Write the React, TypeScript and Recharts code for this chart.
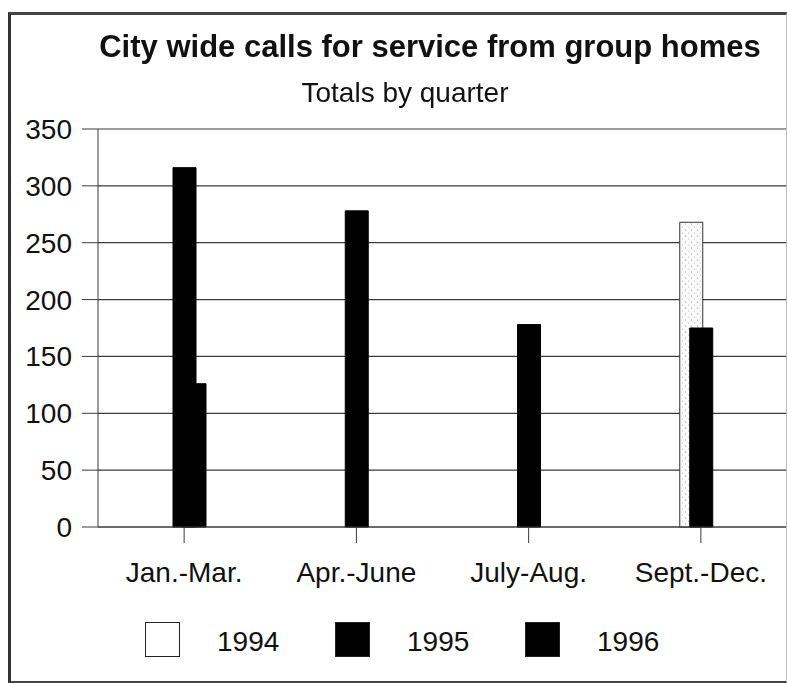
import React from 'react';
import { BarChart, Bar, XAxis, YAxis, CartesianGrid } from 'recharts';

const quarters = ['Jan.-Mar.', 'Apr.-June', 'July-Aug.', 'Sept.-Dec.'];
const calls1994 = [null, null, null, 268];
const calls1995 = [316, 278, 178, 175];
const calls1996 = [126, null, null, null];
const yTicks = [0, 50, 100, 150, 200, 250, 300, 350];

const series = [
  { key: 'y1994', name: '1994', fill: 'url(#stipple)', swatch: '#ffffff' },
  { key: 'y1995', name: '1995', fill: '#000000', swatch: '#000000' },
  { key: 'y1996', name: '1996', fill: '#000000', swatch: '#000000' },
];

const data = quarters.map((q, i) => ({
  quarter: q,
  y1994: calls1994[i],
  y1995: calls1995[i],
  y1996: calls1996[i],
}));

const font = '"Liberation Sans", Arial, sans-serif';

export default function App() {
  return (
    <div style={{ position: 'fixed', left: 0, top: 0, width: 787, height: 683, background: '#fff', fontFamily: font, color: '#111' }}>
      <BarChart
        width={787}
        height={683}
        data={data}
        margin={{ top: 129, right: 0, bottom: 96, left: 0 }}
        barSize={23}
        barGap={-13}
      >
        <defs>
          <pattern id="stipple" width="6" height="6" patternUnits="userSpaceOnUse">
            <rect width="6" height="6" fill="#fafafa" />
            <circle cx="1.5" cy="2" r="0.6" fill="#888" />
            <circle cx="4.5" cy="5" r="0.5" fill="#aaa" />
          </pattern>
        </defs>
        <CartesianGrid vertical={false} stroke="#3a3a3a" strokeWidth={1.2} />
        <XAxis
          dataKey="quarter"
          height={60}
          tickSize={16}
          tickMargin={19}
          stroke="#3a3a3a"
          tick={{ fill: '#111', fontSize: 28, fontFamily: font }}
        />
        <YAxis
          width={98}
          domain={[0, 350]}
          ticks={yTicks}
          tickSize={16}
          tickMargin={10}
          stroke="#3a3a3a"
          tick={{ fill: '#111', fontSize: 28, fontFamily: font }}
        />
        {series.map((s) => (
          <Bar
            key={s.key}
            dataKey={s.key}
            name={s.name}
            fill={s.fill}
            stroke={s.key === 'y1994' ? '#333' : '#000'}
            strokeWidth={1}
            isAnimationActive={false}
          />
        ))}
      </BarChart>

      <div style={{ position: 'absolute', left: 0, width: 860, top: 31, textAlign: 'center', fontSize: 31, fontWeight: 'bold', lineHeight: 1 }}>
        City wide calls for service from group homes
      </div>
      <div style={{ position: 'absolute', left: 0, width: 810, top: 79, textAlign: 'center', fontSize: 28, lineHeight: 1 }}>
        Totals by quarter
      </div>

      {series.map((s, i) => (
        <React.Fragment key={s.key}>
          <div
            style={{
              position: 'absolute',
              left: 145 + i * 190,
              top: 622,
              width: 33,
              height: 33,
              background: s.swatch,
              border: '1px solid #222',
            }}
          />
          <div style={{ position: 'absolute', left: 217 + i * 190, top: 628, fontSize: 28, lineHeight: 1 }}>{s.name}</div>
        </React.Fragment>
      ))}

      <div
        style={{
          position: 'absolute',
          left: 8,
          top: 12,
          width: 775,
          height: 666,
          borderLeft: '3px solid #333',
          borderTop: '3px solid #444',
          borderBottom: '3px solid #444',
          borderRight: '1px solid #bbb',
          pointerEvents: 'none',
        }}
      />
    </div>
  );
}
